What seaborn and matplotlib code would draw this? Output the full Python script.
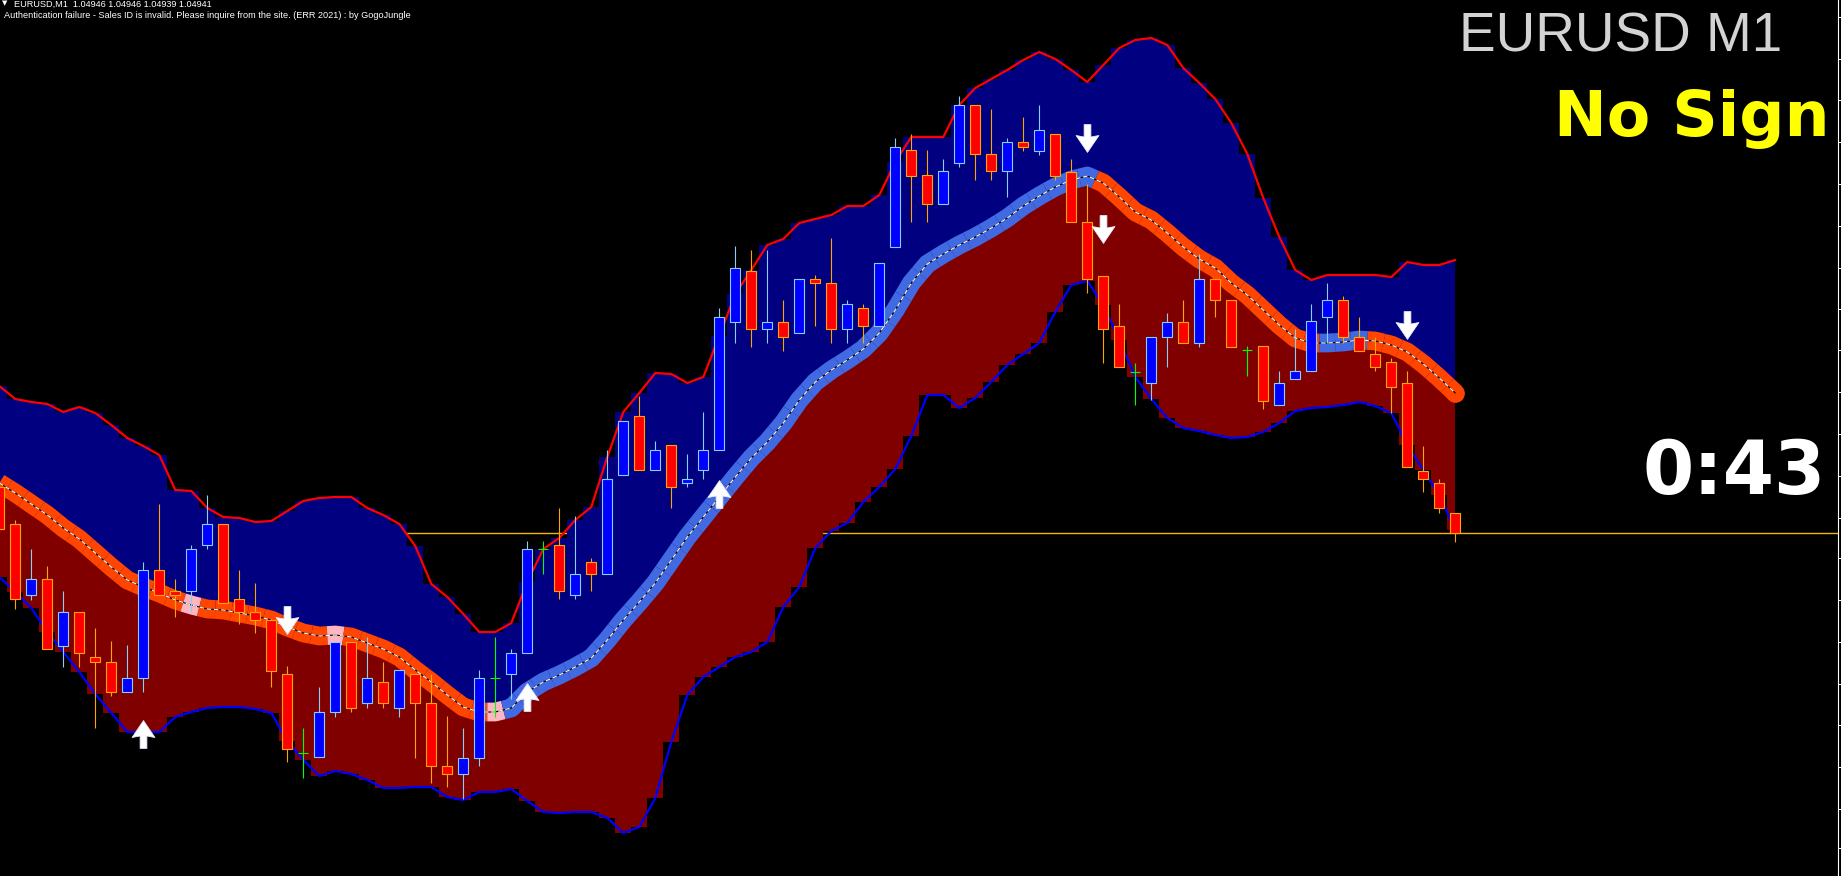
import numpy as np
import pandas as pd
import matplotlib
matplotlib.use("Agg")
import matplotlib.pyplot as plt
from matplotlib.path import Path
import seaborn as sns

# ---- data (chart units: vertical screen position of the price, grows downward) ----
opens = [487, 524, 595, 579, 646, 612, 657, 662, 692, 678,
         570, 591, 591, 545, 524, 599, 612, 620, 674, 753,
         757, 712, 642, 703, 682, 708, 674, 703, 766, 774,
         758, 678, 674, 653, 549, 545, 595, 562, 574, 475,
         416, 470, 445, 483, 470, 450, 322, 271, 329, 322,
         333, 279, 283, 329, 308, 326, 247, 150, 175, 204,
         163, 105, 154, 171, 142, 151, 134, 172, 222, 276,
         326, 372, 383, 337, 322, 343, 279, 300, 350, 346,
         405, 379, 371, 317, 300, 337, 354, 362, 383, 471,
         483, 513]
highs = [484, 520, 549, 566, 591, 612, 628, 641, 645, 562,
         504, 579, 545, 495, 524, 570, 583, 620, 666, 728,
         687, 642, 642, 637, 662, 670, 674, 674, 716, 728,
         670, 637, 649, 541, 541, 508, 516, 558, 450, 421,
         396, 441, 445, 454, 412, 308, 246, 250, 250, 300,
         279, 275, 238, 300, 304, 263, 138, 134, 150, 159,
         96, 105, 109, 138, 117, 105, 134, 159, 184, 276,
         304, 363, 337, 313, 300, 254, 279, 300, 346, 346,
         371, 329, 304, 283, 296, 317, 337, 358, 371, 446,
         479, 513]
lows = [532, 609, 600, 649, 667, 667, 728, 696, 692, 692,
        595, 617, 612, 549, 603, 624, 633, 687, 762, 778,
        757, 717, 712, 708, 708, 717, 758, 783, 787, 799,
        766, 717, 699, 653, 574, 599, 599, 591, 574, 475,
        470, 470, 508, 487, 479, 450, 343, 347, 343, 351,
        333, 326, 343, 343, 343, 326, 247, 222, 222, 204,
        167, 180, 180, 197, 151, 155, 180, 222, 293, 363,
        367, 405, 400, 367, 343, 347, 317, 347, 376, 409,
        405, 379, 371, 343, 343, 351, 371, 413, 467, 492,
        513, 542]
closes = [529, 599, 579, 649, 612, 653, 662, 692, 678, 570,
          595, 595, 549, 524, 603, 612, 620, 671, 749, 753,
          712, 642, 708, 678, 703, 670, 703, 766, 774, 758,
          678, 678, 653, 549, 549, 591, 574, 574, 479, 421,
          470, 450, 487, 479, 450, 317, 268, 329, 322, 337,
          279, 283, 329, 304, 326, 263, 147, 176, 204, 171,
          105, 154, 171, 142, 147, 130, 176, 222, 279, 329,
          367, 372, 337, 322, 343, 279, 300, 347, 350, 401,
          383, 371, 321, 300, 337, 351, 367, 387, 467, 479,
          508, 533]
upper_band = [386, 399, 402, 404, 412, 407, 413, 425, 438, 446,
              455, 490, 491, 508, 517, 518, 522, 521, 511, 501,
              498, 497, 497, 508, 515, 524, 546, 584, 597, 614,
              632, 632, 623, 582, 549, 538, 520, 507, 457, 412,
              393, 373, 374, 383, 377, 336, 294, 270, 245, 239,
              223, 219, 215, 206, 206, 195, 162, 137, 137, 137,
              105, 88, 79, 70, 60, 52, 59, 70, 82, 65,
              48, 40, 38, 45, 68, 83, 99, 123, 154, 198,
              237, 270, 280, 275, 275, 275, 275, 277, 262, 265,
              265, 260]
middle_band = [483, 493, 504, 515, 528, 539, 553, 567, 580, 587,
               593, 600, 605, 609, 610, 613, 616, 620, 627, 633,
               636, 635, 637, 643, 649, 657, 670, 682, 695, 707,
               712, 712, 708, 692, 682, 675, 667, 658, 640, 620,
               602, 583, 560, 537, 517, 497, 477, 458, 442, 423,
               400, 382, 370, 360, 349, 333, 310, 283, 264, 254,
               245, 237, 228, 218, 206, 196, 187, 180, 176, 183,
               197, 212, 220, 233, 247, 259, 268, 283, 295, 310,
               325, 338, 343, 343, 342, 340, 341, 345, 352, 364,
               378, 393]
lower_band = [577, 592, 608, 632, 652, 672, 694, 713, 732, 732,
              732, 717, 712, 708, 707, 707, 709, 713, 741, 760,
              776, 771, 774, 780, 788, 788, 787, 787, 797, 800,
              792, 792, 789, 801, 812, 813, 812, 812, 818, 833,
              827, 798, 742, 695, 677, 667, 657, 652, 642, 607,
              587, 548, 531, 523, 502, 487, 469, 436, 395, 395,
              408, 398, 382, 365, 354, 343, 312, 285, 281, 305,
              340, 377, 399, 418, 428, 431, 435, 438, 437, 432,
              423, 411, 408, 407, 405, 402, 406, 413, 445, 470,
              495, 530]
trend = list("d" * 12 + "f" + "d" * 8 + "f" + "d" * 9 + "f" + "u" * 37
             + "d" * 14 + "u" * 3 + "d" * 6)
arrow_up_bar = [9, 33, 45]
arrow_up_level = [734, 697, 494]
arrow_dn_bar = [18, 68, 69, 88]
arrow_dn_level = [620, 138, 229, 325]
price_ticks = [17, 59, 100, 142, 184, 226, 268, 309, 350, 392, 434,
               476, 518, 558, 600, 642, 684, 725, 767, 809, 848]
header = "EURUSD,M1  1.04946 1.04946 1.04939 1.04941"
notice = ("Authentication failure - Sales ID is invalid. Please inquire from the "
          "site. (ERR 2021) : by GogoJungle")
title_text = "EURUSD M1"
sign_text = "No Sign"
timer_text = "0:43"

# ---- styling ----
sns.set_style("dark")
plt.rcParams["font.family"] = ["DejaVu Sans"]

W, H = 1841, 876
fig = plt.figure(figsize=(W / 100, H / 100), dpi=100)
fig.patch.set_facecolor("black")
ax = fig.add_axes([0, 0, 1838 / W, 1])
ax.set_facecolor("black")
ax.grid(False)

n = len(opens)
idx = np.arange(n)
df = pd.DataFrame({"bar": idx, "open": opens, "high": highs, "low": lows,
                   "close": closes, "upper": upper_band, "mid": middle_band,
                   "lower": lower_band, "trend": trend})

# bid line (behind the bands)
ax.axhline(closes[-1], color="#F2B705", lw=1.0, zorder=0.5)

# band fills (histogram-like columns)
ax.fill_between(df["bar"], df["upper"], df["mid"], step="mid",
                color="#000080", lw=0, zorder=1)
ax.fill_between(df["bar"], df["mid"], df["lower"], step="mid",
                color="#800000", lw=0, zorder=1)

# band edges
sns.lineplot(x=df["bar"], y=df["upper"], color="#FF0000", lw=1.6, ax=ax,
             zorder=2, estimator=None, sort=False)
sns.lineplot(x=df["bar"], y=df["lower"], color="#0000FF", lw=1.6, ax=ax,
             zorder=2, estimator=None, sort=False)

# middle line, colored by trend
tcol = {"u": "#4169E1", "d": "#FF4500", "f": "#FFB6C1"}
band_lw = 13.5
mv = df["mid"].to_numpy(float)
for i in range(n):
    xa = [(i - 0.5) if i > 0 else i, i, (i + 0.5) if i < n - 1 else i]
    ya = [(mv[i - 1] + mv[i]) / 2 if i > 0 else mv[i], mv[i],
          (mv[i] + mv[i + 1]) / 2 if i < n - 1 else mv[i]]
    ax.plot(xa, ya, color=tcol[trend[i]], lw=band_lw, solid_capstyle="butt",
            solid_joinstyle="round", zorder=3)
ax.plot([n - 1], [mv[-1]], "o", ms=band_lw, color=tcol[trend[-1]], mew=0, zorder=3)
ax.plot(df["bar"], df["mid"], color="black", lw=0.8, zorder=3.4)
ax.plot(df["bar"], df["mid"], color="white", lw=0.8, dashes=(4, 2.5), zorder=3.5)

# candles
o = df["open"].to_numpy(float)
c = df["close"].to_numpy(float)
bull = c < o
bear = c > o
doji = c == o
bw = 0.63
ax.vlines(idx[bull], df["high"][bull], df["low"][bull], colors="#87CEFA", lw=0.8, zorder=4)
ax.vlines(idx[bear], df["high"][bear], df["low"][bear], colors="#FFA500", lw=0.8, zorder=4)
ax.bar(idx[bull], (o - c)[bull], bottom=c[bull], width=bw, color="#0000FF",
       edgecolor="#87CEFA", lw=0.8, zorder=5)
ax.bar(idx[bear], (c - o)[bear], bottom=o[bear], width=bw, color="#FF0000",
       edgecolor="#FFA500", lw=0.8, zorder=5)
ax.vlines(idx[doji], df["high"][doji], df["low"][doji], colors="#00FF00", lw=0.8, zorder=5)
ax.hlines(o[doji], idx[doji] - bw / 2, idx[doji] + bw / 2, colors="#00FF00", lw=0.8, zorder=5)

# signal arrows
up_v = [(0, 14), (11.5, -3), (3.4, -1.5), (3.4, -14), (-3.4, -14), (-3.4, -1.5),
        (-11.5, -3), (0, 14)]
codes = [Path.MOVETO] + [Path.LINETO] * 6 + [Path.CLOSEPOLY]
up_path = Path(up_v, codes)
dn_path = Path([(x, -y) for x, y in up_v], codes)
ax.plot(arrow_up_bar, arrow_up_level, ls="none", marker=up_path, ms=20,
        color="white", mec="#E8E8FF", mew=0.6, zorder=6)
ax.plot(arrow_dn_bar, arrow_dn_level, ls="none", marker=dn_path, ms=20,
        color="white", mec="#E8E8FF", mew=0.6, zorder=6)

# axes frame: only the price-scale edge on the right
ax.set_xlim(0.7 / 16, 1838.7 / 16)
ax.set_ylim(H, 0)
for s in ["left", "top", "bottom"]:
    ax.spines[s].set_visible(False)
ax.spines["right"].set_color("white")
ax.spines["right"].set_linewidth(0.8)
ax.set_xticks([])
ax.yaxis.tick_right()
ax.set_yticks(price_ticks)
ax.tick_params(axis="y", colors="white", length=2.2, width=0.7, direction="out",
               labelright=False, labelleft=False)
ax.set_xlabel("")
ax.set_ylabel("")

# texts
def fx(px):
    return px / W

def fy(py):
    return 1 - py / H

fig.text(fx(2), fy(0.5), "\u25BC", color="white", fontsize=5, va="top", ha="left")
fig.text(fx(14), fy(0), header, color="white", fontsize=6.6, va="top", ha="left",
         family=["Liberation Sans", "DejaVu Sans"])
fig.text(fx(4), fy(11.5), notice, color="white", fontsize=6.6, va="top", ha="left",
         family=["Liberation Sans", "DejaVu Sans"])
fig.text(fx(1782), fy(52), title_text, color="#D3D3D3", fontsize=39.5,
         ha="right", va="baseline", family=["Liberation Sans", "DejaVu Sans"])
fig.text(fx(1830), fy(136), sign_text, color="#FFFF00", fontsize=45.5,
         fontweight="bold", ha="right", va="baseline", family=["DejaVu Sans"])
fig.text(fx(1826), fy(494), timer_text, color="white", fontsize=53,
         fontweight="bold", ha="right", va="baseline", family=["DejaVu Sans"])

fig.savefig("out.png", dpi=100, facecolor="black")
